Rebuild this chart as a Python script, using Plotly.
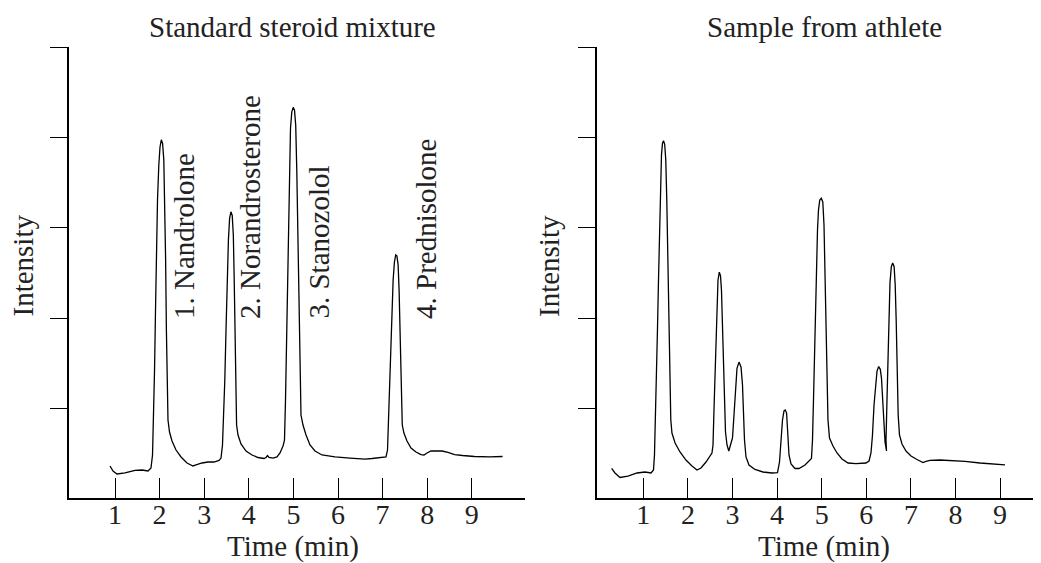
import plotly.graph_objects as go

# ---------------- data ----------------
std_time = [0.888, 0.955, 1.045, 1.224, 1.448, 1.605, 1.740, 1.807, 1.841, 1.863, 1.886, 1.908, 1.930, 1.953,
            1.982, 2.009, 2.038, 2.067, 2.094, 2.117, 2.135, 2.152, 2.170, 2.188, 2.222, 2.278, 2.368, 2.480,
            2.614, 2.749, 2.816, 2.951, 3.085, 3.220, 3.332, 3.377,
            3.410, 3.433, 3.462, 3.489, 3.516, 3.543, 3.570, 3.599, 3.628, 3.653, 3.673, 3.691, 3.706, 3.726,
            3.758, 3.825, 3.937, 4.072, 4.206, 4.341, 4.386, 4.419, 4.453, 4.543, 4.632, 4.700, 4.767, 4.800,
            4.823, 4.845, 4.868, 4.890, 4.913, 4.935, 4.964, 4.996, 5.025, 5.052, 5.076, 5.099, 5.121, 5.143,
            5.170, 5.215, 5.283, 5.372, 5.484, 5.641, 5.933, 6.269, 6.605, 6.762, 6.942, 7.076, 7.110,
            7.130, 7.152, 7.179, 7.209, 7.236, 7.265, 7.294, 7.321, 7.348, 7.370, 7.395, 7.417, 7.441,
            7.478, 7.547, 7.637, 7.748, 7.861, 7.928, 7.996, 8.085, 8.197, 8.332, 8.466, 8.614, 8.794,
            9.06, 9.40, 9.69]
std_intensity = [0.356, 0.300, 0.267, 0.278, 0.306, 0.311, 0.300, 0.333, 0.478, 0.867, 1.42, 2.09, 2.76, 3.31,
                 3.70, 3.90, 3.98, 3.94, 3.76, 3.31, 2.64, 1.87, 1.20, 0.867, 0.733, 0.633, 0.533, 0.456,
                 0.389, 0.356, 0.367, 0.389, 0.400, 0.400, 0.417, 0.444,
                 0.589, 0.867, 1.31, 1.87, 2.42, 2.87, 3.11, 3.18, 3.14, 2.92, 2.42, 1.76, 1.09, 0.811,
                 0.700, 0.600, 0.522, 0.478, 0.450, 0.439, 0.450, 0.472, 0.450, 0.444, 0.456, 0.500, 0.578, 0.644,
                 1.09, 1.76, 2.53, 3.20, 3.76, 4.11, 4.29, 4.34, 4.31, 4.14, 3.64, 2.87, 2.09, 1.42,
                 0.922, 0.811, 0.700, 0.589, 0.522, 0.478, 0.456, 0.444, 0.433, 0.439, 0.444, 0.456, 0.533,
                 0.811, 1.14, 1.64, 2.09, 2.42, 2.62, 2.70, 2.69, 2.59, 2.31, 1.76, 1.20, 0.811,
                 0.722, 0.633, 0.556, 0.511, 0.483, 0.478, 0.500, 0.522, 0.522, 0.522, 0.506, 0.483, 0.472,
                 0.461, 0.456, 0.461]

ath_time = [0.291, 0.365, 0.478, 0.657, 0.859, 1.038, 1.173, 1.229, 1.251, 1.274, 1.296, 1.318, 1.341, 1.363,
            1.386, 1.408, 1.430, 1.453, 1.480, 1.504, 1.527, 1.549, 1.572, 1.594, 1.617, 1.643, 1.713, 1.823,
            1.957, 2.092, 2.204, 2.294, 2.406, 2.540, 2.563,
            2.585, 2.608, 2.630, 2.652, 2.675, 2.704, 2.731, 2.753, 2.776, 2.798, 2.821, 2.843, 2.877, 2.917,
            2.955, 3.000, 3.034, 3.067, 3.101, 3.146, 3.191, 3.224, 3.247, 3.269, 3.303, 3.370, 3.504, 3.684,
            3.886, 4.009, 4.054,
            4.087, 4.121, 4.155, 4.184, 4.213, 4.240, 4.267, 4.312, 4.401, 4.491, 4.626, 4.771,
            4.794, 4.816, 4.839, 4.861, 4.883, 4.906, 4.928, 4.957, 4.991, 5.025, 5.052, 5.074, 5.096, 5.119,
            5.141, 5.175, 5.253, 5.343, 5.455, 5.590, 5.769, 5.993, 6.061, 6.105,
            6.139, 6.173, 6.206, 6.240, 6.278, 6.314, 6.341, 6.363, 6.386, 6.420, 6.453, 6.442,
            6.464, 6.487, 6.509, 6.531, 6.561, 6.592, 6.624, 6.648, 6.670, 6.693, 6.715, 6.744, 6.800, 6.890,
            7.002, 7.137, 7.271, 7.339, 7.428, 7.652, 7.921, 8.213, 8.549, 8.840, 9.110]
ath_intensity = [0.330, 0.278, 0.228, 0.244, 0.278, 0.289, 0.278, 0.311, 0.478, 0.867, 1.31, 1.87, 2.42, 2.98,
                 3.48, 3.81, 3.94, 3.97, 3.93, 3.76, 3.31, 2.64, 1.98, 1.31, 0.867, 0.722, 0.611, 0.511,
                 0.422, 0.356, 0.311, 0.333, 0.400, 0.500, 0.589,
                 0.978, 1.42, 1.87, 2.20, 2.42, 2.51, 2.47, 2.31, 1.87, 1.31, 0.867, 0.733, 0.589, 0.522,
                 0.589, 0.667, 0.922, 1.26, 1.44, 1.51, 1.456, 1.26, 0.978, 0.644, 0.456, 0.367, 0.317, 0.289,
                 0.278, 0.283, 0.400,
                 0.644, 0.867, 0.967, 0.978, 0.944, 0.756, 0.478, 0.378, 0.328, 0.328, 0.367, 0.439,
                 0.644, 1.09, 1.64, 2.20, 2.64, 2.98, 3.20, 3.31, 3.33, 3.29, 3.03, 2.53, 1.87, 1.31,
                 0.867, 0.667, 0.578, 0.500, 0.433, 0.389, 0.383, 0.389, 0.411, 0.500,
                 0.700, 1.03, 1.26, 1.41, 1.46, 1.43, 1.33, 1.09, 0.811, 0.622, 0.522, 0.644,
                 1.09, 1.64, 2.09, 2.39, 2.57, 2.61, 2.57, 2.37, 1.98, 1.42, 0.922, 0.700, 0.600, 0.522,
                 0.467, 0.428, 0.394, 0.406, 0.417, 0.422, 0.417, 0.406, 0.389, 0.378, 0.367]

time_ticks = [1, 2, 3, 4, 5, 6, 7, 8, 9]
time_tick_labels = ["1", "2", "3", "4", "5", "6", "7", "8", "9"]
intensity_ticks = [1, 2, 3, 4, 5]

peak_names = ["1. Nandrolone", "2. Norandrosterone", "3. Stanozolol", "4. Prednisolone"]
peak_label_x = [2.547, 4.027, 5.552, 7.973]

panel_titles = ["Standard steroid mixture", "Sample from athlete"]
x_title = "Time (min)"
y_title = "Intensity"

# ---------------- figure ----------------
OFF = 8                      # page body margin of the browser
W, H = 1041 - OFF, 563 - OFF
FONT = "Liberation Serif, Times New Roman, serif"


def px(xp):
    return (xp - OFF) / W


def py(yp):
    return 1 - (yp - OFF) / H


fig = go.Figure()
fig.add_trace(go.Scatter(x=std_time, y=std_intensity, mode="lines",
                         line=dict(color="black", width=1.3), xaxis="x", yaxis="y",
                         showlegend=False, hoverinfo="skip"))
fig.add_trace(go.Scatter(x=ath_time, y=ath_intensity, mode="lines",
                         line=dict(color="black", width=1.3), xaxis="x2", yaxis="y2",
                         showlegend=False, hoverinfo="skip"))

ydom = [py(498), py(47)]
common_x = dict(showline=True, linecolor="black", linewidth=1.5, ticks="inside", ticklen=20,
                tickwidth=1.3, tickcolor="black", tickvals=time_ticks, ticktext=time_tick_labels,
                showgrid=False, zeroline=False, ticklabelstandoff=-9,
                tickfont=dict(family=FONT, size=28, color="#222"))
common_y = dict(showline=True, linecolor="black", linewidth=1.5, ticks="outside", ticklen=18,
                tickwidth=1.3, tickcolor="black", tickvals=intensity_ticks, showticklabels=False,
                showgrid=False, zeroline=False, range=[0, 5.011], domain=ydom)

fig.update_layout(
    width=W, height=H, margin=dict(l=0, r=0, t=0, b=0),
    paper_bgcolor="white", plot_bgcolor="white", showlegend=False,
    xaxis=dict(domain=[px(69.3), px(525)], range=[-0.025, 10.193], anchor="y", **common_x),
    yaxis=dict(anchor="x", **common_y),
    xaxis2=dict(domain=[px(597.3), 1.0], range=[-0.031, 9.917], anchor="y2", **common_x),
    yaxis2=dict(anchor="x2", **common_y),
)

ann = []
txt = dict(family=FONT, size=29, color="#222")
# panel titles
for t, cx in zip(panel_titles, (292, 824)):
    ann.append(dict(text=t, x=px(cx), y=py(27), xref="paper", yref="paper",
                    xanchor="center", yanchor="middle", showarrow=False, font=txt))
# x titles
for cx in (292.5, 824):
    ann.append(dict(text=x_title, x=px(cx), y=py(546), xref="paper", yref="paper",
                    xanchor="center", yanchor="middle", showarrow=False, font=txt,
                    borderpad=0, borderwidth=0))
# y titles
for cx in (22.5, 549):
    ann.append(dict(text=y_title, x=px(cx), y=py(319), xref="paper", yref="paper",
                    xanchor="center", yanchor="bottom", textangle=-90, showarrow=False, font=txt))
# peak labels
for name, lx in zip(peak_names, peak_label_x):
    ann.append(dict(text=name, x=lx, y=py(321), xref="x", yref="paper",
                    xanchor="center", yanchor="bottom", textangle=-90, showarrow=False, font=txt))

fig.update_layout(annotations=ann)
fig.write_html("out.html")
